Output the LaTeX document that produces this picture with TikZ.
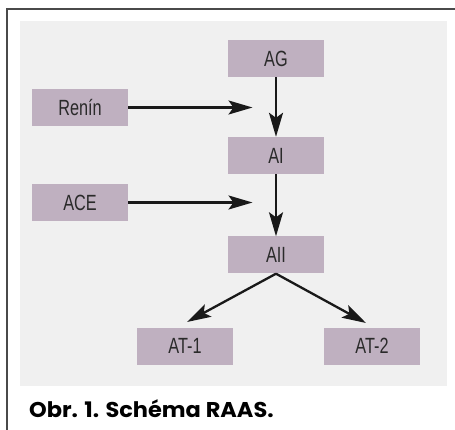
\documentclass[tikz,border=0pt]{standalone}
\usepackage{fontspec}
\setmainfont{Liberation Sans}
\newfontfamily\boxfont[FakeStretch=0.74]{Liberation Sans}
\newfontfamily\capfont[FakeStretch=1.05]{Poppins}
\usetikzlibrary{arrows.meta}
\definecolor{panelgray}{HTML}{F0F0F0}
\definecolor{mauve}{HTML}{BFB0C0}
\definecolor{framegray}{HTML}{4A4A4A}
\definecolor{txt}{HTML}{2A2A2A}
\tikzset{
  box/.style={fill=mauve, draw=none, minimum width=96pt, minimum height=37pt, inner sep=0pt,
    font=\boxfont\fontsize{22}{22}\selectfont, text=txt},
  conn/.style={line width=2.3pt, draw=black!90, -{Stealth[length=24pt,width=14pt,inset=5pt]}},
}
\begin{document}
\begin{tikzpicture}[x=1pt,y=-1pt]
\useasboundingbox (0,0) rectangle (455,430);
\fill[white] (0,0) rectangle (455,430);
\draw[framegray, line width=2pt] (7,430) -- (7,9) -- (455,9);
\fill[panelgray] (20,21) rectangle (447,386);
\node[box] (ag) at (276,58.5) {AG};
\node[box] (renin) at (80,107.5) {Renín};
\node[box] (ai) at (276,155.5) {AI};
\node[box] (ace) at (80,202.5) {ACE};
\node[box] (aii) at (276,255) {AII};
\node[box] (at1) at (185,346) {AT-1};
\node[box] (at2) at (372,346) {AT-2};
\coordinate (rtip) at (252.5,107.5);
\coordinate (atip) at (252.5,202.5);
\coordinate (t1) at (187,322);
\coordinate (t2) at (366,323);
\draw[conn] (renin.east) -- (rtip);
\draw[conn] (ace.east) -- (atip);
\draw[conn] (ag.south) -- (ai.north);
\draw[conn] (ai.south) -- (aii.north);
\draw[conn] (aii.south) -- (t1);
\draw[conn] (aii.south) -- (t2);
\node[anchor=base west, inner sep=0pt, font=\capfont\bfseries\fontsize{21.4}{22}\selectfont, text=black] (cap) at (29,417.5) {Obr. 1. Schéma RAAS.};
\end{tikzpicture}
\end{document}
